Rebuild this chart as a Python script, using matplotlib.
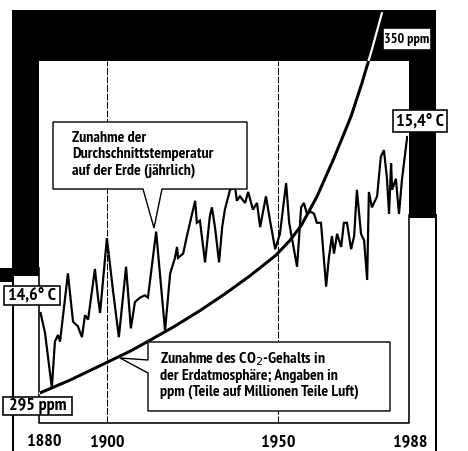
import matplotlib
matplotlib.use("Agg")
import matplotlib.pyplot as plt
import matplotlib.transforms as mtrans
from matplotlib.patches import Polygon, Rectangle
from matplotlib import font_manager
from matplotlib.font_manager import FontProperties

# Werte
temp_years = [1880.6, 1881.9, 1883.9, 1884.8, 1885.7, 1886.3, 1888.6, 1890.1, 1891.5, 1892.7,
              1893.6, 1894.5, 1896.5, 1897.4, 1898.0, 1900.0, 1901.8, 1903.5, 1905.6, 1907.0,
              1908.2, 1909.7, 1911.1, 1912.0, 1914.4, 1917.0, 1918.5, 1919.9, 1920.5, 1920.8,
              1922.3, 1923.4, 1925.2, 1925.8, 1926.3, 1927.2, 1928.7, 1930.1, 1930.7, 1931.6,
              1932.8, 1933.7, 1934.5, 1936.0, 1937.5, 1938.0, 1938.9, 1940.4, 1941.3, 1942.7,
              1943.9, 1944.8, 1946.5, 1947.7, 1949.2, 1950.6, 1952.4, 1953.3, 1955.6, 1956.8,
              1957.6, 1958.5, 1959.7, 1960.6, 1961.4, 1962.6, 1964.1, 1964.9, 1965.8, 1966.4,
              1967.3, 1968.5, 1969.3, 1970.2, 1971.4, 1972.3, 1973.1, 1974.3, 1975.2, 1976.1,
              1976.6, 1977.5, 1979.0, 1980.1, 1981.0, 1981.9, 1982.5, 1983.1, 1983.4, 1984.5,
              1985.4, 1986.3, 1987.8]
temp_values = [14.60, 14.51, 14.26, 14.47, 14.50, 14.47, 14.78, 14.56, 14.54, 14.49,
               14.59, 14.57, 14.80, 14.67, 14.60, 14.94, 14.70, 14.49, 14.81, 14.53,
               14.65, 14.67, 14.68, 14.67, 14.97, 14.52, 14.78, 14.85, 14.90, 14.85,
               14.87, 14.95, 15.07, 15.11, 15.01, 15.02, 14.83, 15.04, 15.08, 14.99,
               14.83, 14.99, 15.07, 15.16, 15.17, 15.11, 15.13, 15.10, 15.15, 15.07,
               15.10, 14.99, 15.13, 15.02, 14.89, 14.96, 15.19, 15.01, 14.81, 15.08,
               15.10, 15.05, 15.06, 15.05, 15.01, 15.01, 14.72, 14.85, 14.95, 14.87,
               14.96, 14.90, 15.01, 15.01, 14.89, 14.95, 15.16, 14.96, 14.93, 14.75,
               15.15, 15.08, 15.13, 15.31, 15.34, 15.21, 15.05, 15.28, 15.16, 15.21,
               15.05, 15.21, 15.40]

co2_years = [1880.4, 1889.2, 1899.4, 1906.8, 1912.6, 1919.9, 1927.2, 1934.5, 1941.8,
             1949.4, 1953.5, 1956.8, 1961.4, 1966.4, 1971.4, 1974.6, 1977.5, 1980.4]
co2_values = [295.0, 297.0, 299.6, 301.5, 303.2, 305.4, 307.8, 310.4, 313.2,
              316.4, 318.7, 321.0, 325.5, 331.5, 338.0, 343.2, 348.4, 354.0]

tick_years = [1880, 1900, 1950, 1988]
tick_labels = ['1880', '1900', '1950', '1988']
grid_years = [1900, 1950]

W, H = 468, 451
PX = 72 / 100  # points per pixel


def pick_font():
    # schmale, fette Schrift suchen, sonst normale
    best, best_score = None, -1
    for f in font_manager.fontManager.ttflist:
        n = f.name.lower()
        st = str(f.stretch).lower()
        score = 0
        if 'narrow' in n:
            score += 6
        if 'condensed' in n or 'condensed' in st:
            score += 5
        if 'semi' in n or 'semi' in st:
            score -= 1
        if score == 0:
            continue
        w = f.weight if isinstance(f.weight, int) else {'bold': 700, 'semibold': 600,
                                                           'medium': 500}.get(str(f.weight), 400)
        if w >= 600:
            score += 3
        if 'italic' in f.style or 'oblique' in f.style:
            score -= 10
        if score > best_score:
            best, best_score = f, score
    if best is not None and best_score > 0:
        return FontProperties(fname=best.fname)
    return FontProperties(family=['Liberation Sans', 'DejaVu Sans'], weight='bold')


FP = pick_font()

fig = plt.figure(figsize=(W / 100, H / 100), dpi=100)
fig.patch.set_facecolor('white')
renderer = fig.canvas.get_renderer()


def put(axis, x, y, s, size, maxw, **kw):
    fp = FP.copy()
    fp.set_size(size)
    t = axis.text(x, y, s, fontproperties=fp, color='black', **kw)
    w = t.get_window_extent(renderer).width
    if w > maxw:
        fp2 = FP.copy()
        fp2.set_size(size * maxw / w)
        t.set_fontproperties(fp2)
    return t


def fit_size(lines, size, maxw):
    fp = FP.copy()
    fp.set_size(size)
    widest = 0
    for s in lines:
        t = fig.text(0, 0, s, fontproperties=fp)
        widest = max(widest, t.get_window_extent(renderer).width)
        t.remove()
    return size if widest <= maxw else size * maxw / widest


# Hintergrund mit schwarzem Rahmen (Pixelkoordinaten)
bg = fig.add_axes([0, 0, 1, 1], zorder=0)
bg.set_xlim(0, W)
bg.set_ylim(H, 0)
bg.axis('off')
bg.add_patch(Polygon([(12, 10), (436, 10), (436, 218), (409, 218), (409, 61),
                      (39, 61), (39, 276), (12, 276)], closed=True, fc='black', ec='none'))
bg.add_patch(Rectangle((0, 268), 14, 14, fc='black', ec='none'))
bg.plot([13, 13], [268, 451], color='black', lw=2 * PX)
bg.plot([436, 436], [215, 451], color='black', lw=2 * PX)
bg.plot([39, 39, 409, 409], [268, 423, 423, 215], color='black', lw=1.6 * PX)

# Datenachse: Temperatur
ax = fig.add_axes([38.5 / W, (H - 423) / H, 108 * 3.42 / W, 413 / H], zorder=1)
ax.patch.set_visible(False)
for s in ax.spines.values():
    s.set_visible(False)
ax.set_xlim(1880, 1988)
ax.set_ylim(14.1, 15.977)
ax.set_xticks([])
ax.set_yticks([])

for yr in grid_years:
    ax.axvline(yr, ymin=0, ymax=362 / 413, color='black', lw=1.0 * PX, dashes=(7, 1.5))

ax.plot(temp_years, temp_values, color='black', lw=2.2 * PX, solid_joinstyle='miter')

# CO2-Kurve auf eigener Skala
ax2 = ax.twinx()
ax2.set_ylim(290.34, 354.51)
ax2.set_axis_off()
ax2.plot(co2_years, co2_values, color='white', lw=2.2 * PX, clip_on=False)
co2_line, = ax2.plot(co2_years, co2_values, color='black', lw=3.0 * PX,
                     solid_capstyle='butt', solid_joinstyle='round')
panel = Rectangle((39, 61), 370, 362, transform=bg.transData)
co2_line.set_clip_path(panel)

# Jahreszahlen
blend = mtrans.blended_transform_factory(ax.transData, bg.transData)
tick_shift = [6, 0, 0, 2]
for yr, lab, dx in zip(tick_years, tick_labels, tick_shift):
    off = mtrans.ScaledTranslation(dx / 100, 0, fig.dpi_scale_trans)
    put(ax, yr, 442, lab, 13, 36, transform=blend + off, ha='center', va='center')

# Beschriftungen oben drauf
top = fig.add_axes([0, 0, 1, 1], zorder=3)
top.set_xlim(0, W)
top.set_ylim(H, 0)
top.axis('off')
top.patch.set_visible(False)

top.add_patch(Polygon([(53, 122), (247, 122), (247, 189), (162, 189), (154, 228),
                       (143, 189), (53, 189)], closed=True, fc='white', ec='black',
                      lw=1.4 * PX, joinstyle='miter'))
box1 = ['Zunahme der', 'Durchschnittstemperatur', 'auf der Erde (jährlich)']
s1 = fit_size(box1, 11.5, 161)
for y, line in zip([141.5, 158, 174.5], box1):
    put(top, 72, y, line, s1, 400, ha='left', va='baseline')

top.add_patch(Polygon([(148, 342), (390, 342), (390, 411), (148, 411), (148, 373),
                       (120, 358), (148, 360)], closed=True, fc='white', ec='black',
                      lw=1.4 * PX, joinstyle='miter'))
box2 = ['Zunahme des CO$_2$-Gehalts in', 'der Erdatmosphäre; Angaben in',
        'ppm (Teile auf Millionen Teile Luft)']
s2 = fit_size(box2, 11.5, 223)
for y, line in zip([363, 380, 396], box2):
    put(top, 160, y, line, s2, 400, ha='left', va='baseline')

value_boxes = [((383, 28, 48, 22), '350 ppm'),
               ((393, 110, 54, 22), '15,4° C'),
               ((4, 286, 56, 19), '14,6° C'),
               ((3, 397, 69, 18), '295 ppm')]
for (x0, y0, w, h), txt in value_boxes:
    top.add_patch(Rectangle((x0, y0), w, h, fc='white', ec='black', lw=1.6 * PX))
    put(top, x0 + w / 2, y0 + h / 2 + 0.5, txt, 13, w - 3, ha='center', va='center')

fig.savefig('out.png', dpi=100)
